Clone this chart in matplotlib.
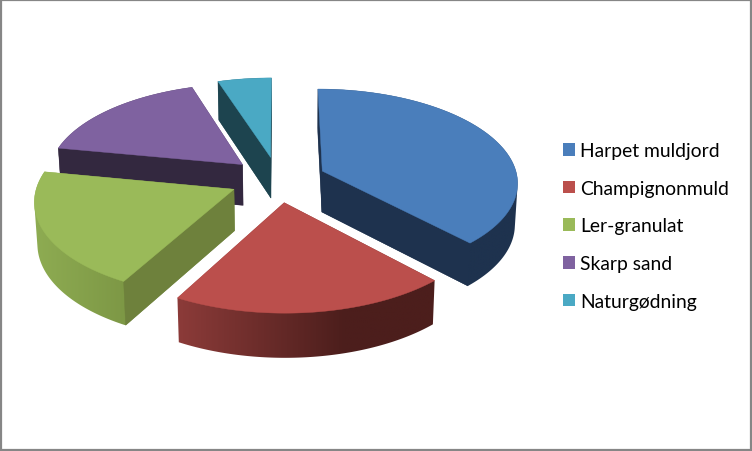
import numpy as np
import matplotlib
matplotlib.use("Agg")
import matplotlib.pyplot as plt
from matplotlib.colors import LinearSegmentedColormap
from matplotlib.patches import Polygon, Rectangle

# data (percent of the mix)
names = ["Harpet muldjord", "Champignonmuld", "Ler-granulat", "Skarp sand", "Naturgødning"]
values = [38, 20, 20, 17, 5]

top_colors = ["#4A7EBB", "#BB4F4C", "#9ABA59", "#7F62A0", "#4AA9C4"]
face_colors = ["#1E324E", "#4C1E1C", "#6E813C", "#33283F", "#1D444F"]
wall_left = ["#1E324E", "#8C3B39", "#8EAC52", "#33283F", "#1D444F"]
wall_right = ["#1E324E", "#4C1E1C", "#768F40", "#33283F", "#1D444F"]

# camera: plan coordinates to pixels
CX, CY = 278.0, 180.4
A, B = 195.5, 92.8
K = 0.11
EXPLODE = 0.246


def project(px, py):
    w = 1 - K * py
    return CX + A * px / w, CY + B * py / w


def drop(sx, sy):
    # bottom of the slab, verticals lean in a little
    return 290 + (sx - 290) * 0.988, sy + 36.5 + 0.026 * sy


def hull(points):
    # monotone chain, gives the outline of the slab
    pts = sorted(set(map(tuple, points)))

    def half(seq):
        out = []
        for p in seq:
            while len(out) > 1 and ((out[-1][0] - out[-2][0]) * (p[1] - out[-2][1])
                                    - (out[-1][1] - out[-2][1]) * (p[0] - out[-2][0])) <= 0:
                out.pop()
            out.append(p)
        return out[:-1]

    return np.array(half(pts) + half(pts[::-1]))


def draw_slice(ax, start, end, i, z):
    mid = np.radians((start + end) / 2)
    ox, oy = EXPLODE * np.sin(mid), -EXPLODE * np.cos(mid)
    th = np.radians(np.linspace(start, end, int(end - start) * 2 + 2))
    sx, sy = project(ox + np.sin(th), oy - np.cos(th))
    ax0, ay0 = project(ox, oy)
    bx, by = drop(sx, sy)
    abx, aby = drop(ax0, ay0)

    # outer wall, shaded left to right through a clipped gradient
    wall = hull(np.column_stack([np.r_[sx, bx, ax0, abx], np.r_[sy, by, ay0, aby]]))
    cmap = LinearSegmentedColormap.from_list("wall", [(0, wall_left[i]), (0.65, wall_right[i]), (1, wall_right[i])])
    xl, xr = wall[:, 0].min(), wall[:, 0].max()
    yt, yb = wall[:, 1].min(), wall[:, 1].max()
    im = ax.imshow(np.linspace(0, 1, 256)[None, :], extent=(xl, xr, yb, yt), cmap=cmap,
                   aspect="auto", interpolation="bilinear", zorder=z)
    im.set_clip_path(Polygon(wall, closed=True, transform=ax.transData))

    # cut faces, only those with the top of the slice above their edge can be seen
    n = len(sx) // 2
    for k in (0, -1):
        dx, dy = sx[k] - ax0, sy[k] - ay0
        if dx < 0:
            dx, dy = -dx, -dy
        if dx * (sy[n] - ay0) - dy * (sx[n] - ax0) >= 0:
            continue
        pts = [(ax0, ay0), (sx[k], sy[k]), (bx[k], by[k]), (abx, aby)]
        ax.add_patch(Polygon(pts, closed=True, fc=face_colors[i], ec=face_colors[i], lw=0.3, zorder=z + 0.1))

    # top
    pts = [(ax0, ay0)] + list(zip(sx, sy))
    ax.add_patch(Polygon(pts, closed=True, fc=top_colors[i], ec=top_colors[i], lw=0.3, zorder=z + 0.2))


fig = plt.figure(figsize=(7.52, 4.52), dpi=100)
ax = fig.add_axes([0, 0, 1, 1])

edges = np.concatenate([[0], np.cumsum(values)]) * 360 / sum(values)

# back to front
for z, i in enumerate((4, 3, 0, 2, 1)):
    draw_slice(ax, edges[i], edges[i + 1], i, z + 1)

ax.set_xlim(0, 752)
ax.set_ylim(452, 0)
ax.axis("off")

handles = [Rectangle((0, 0), 1, 1, fc=c, ec="none") for c in top_colors]
fs = 13.9
box = 12 * 0.72
leg = ax.legend(handles, names, loc="center left", bbox_to_anchor=(563 / 752, 1 - 227 / 452),
                frameon=False, prop={"family": "Lato", "size": fs},
                handlelength=box / fs, handleheight=box / fs, handletextpad=0.28,
                labelspacing=1.07, borderpad=0, borderaxespad=0, labelcolor="black")
leg.set_zorder(10)

# chart frame
ax.add_patch(Rectangle((1, 1), 750, 450, fc="none", ec="#868686", lw=1.6, clip_on=False, zorder=11))

fig.savefig("out.png", dpi=100, facecolor="white")
